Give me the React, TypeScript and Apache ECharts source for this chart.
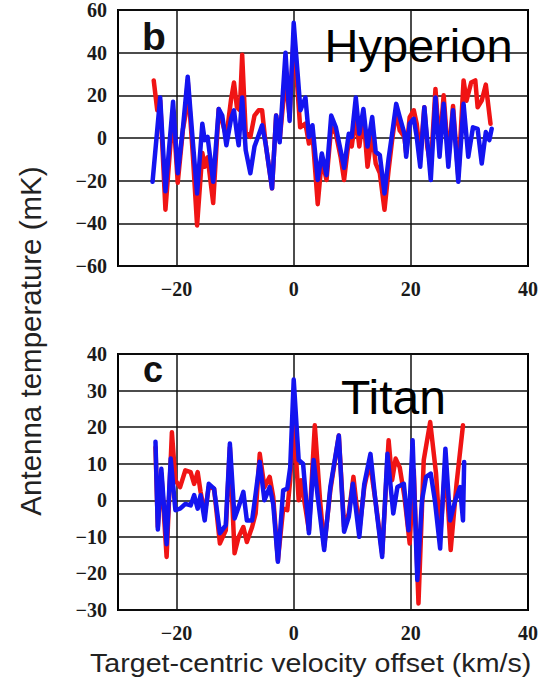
import React, { useEffect, useRef } from "react";
import * as echarts from "echarts";

// Panel b: Hyperion
const hypRedX = [-23.9, -23.3, -22.8, -21.9, -20.6, -19.8, -18.9, -18.5, -18.1, -17.2, -16.5, -15.6, -15.2, -14.7, -13.75, -12.8, -11.5, -10.7, -10.2, -9.7, -9.2, -8.8, -8.2, -7.4, -6.7, -6.0, -5.4, -4.8, -3.7, -3.0, -2.4, -1.4, -0.7, 0, 1.1, 2, 2.6, 3.2, 4.1, 4.8, 5.6, 6.4, 7.2, 8, 8.6, 9.4, 9.9, 10.6, 11.2, 11.9, 12.6, 13.4, 14, 14.7, 15.5, 16.2, 16.8, 17.5, 18.1, 18.9, 19.2, 19.8, 20.5, 21, 21.6, 22.3, 22.8, 23.4, 24.2, 24.9, 25.6, 26.4, 27.2, 28.1, 29, 29.5, 30.3, 31, 31.4, 32.1, 32.8, 33.6];
const hypRedY = [27, 13, 17.5, -33.6, 13, -21, 4.3, 10.5, 27, -9, -41, -7, -13.5, -9, -30.5, 13.6, 0.5, 18, 26, 14.4, 13, 39, 2.8, 0.5, 10.5, 13, 13, -2.6, -23.6, 10.5, -1, 28, 10, 48, 5, 6.7, -2.6, 2, -31, -10, -19.7, 5, 2, -8.8, -19.7, -1, -4, 9.8, -4, 10.5, -13.5, 2, -12, -16.5, -33.6, -15, -1, 13, 3.5, 0.5, -7, 9.8, 13, 6.7, -8.8, 14.4, -4, -13.5, 23, -4, 20, -10, 15, -18, 27, 17.5, 26, 27, 14.4, 17.5, 25, 6.7];
const hypBlueX = [-24.1, -22.8, -21.9, -20.6, -19.8, -18.9, -18.1, -17.2, -16.5, -15.6, -15.2, -14.7, -13.75, -12.8, -12.2, -11.5, -10.7, -10.2, -9.7, -9.4, -8.8, -8.2, -7.4, -6.7, -6.1, -5.4, -4.8, -3.7, -3.0, -2.4, -1.4, -0.7, 0, 1.15, 2, 2.6, 3.2, 4.1, 4.8, 5.6, 6.4, 7.2, 8, 8.6, 9.4, 9.9, 10.6, 11.2, 11.9, 12.6, 13.4, 14, 14.7, 15.5, 16.2, 16.8, 17.5, 18.1, 18.9, 19.2, 19.8, 20.5, 21, 21.6, 22.3, 22.8, 23.4, 24.2, 24.9, 25.6, 26.4, 27.2, 28.1, 29, 29.8, 30.6, 31.4, 32.1, 32.8, 33.4, 33.8];
const hypBlueY = [-20.5, 19, -25, 17, -16.5, 5, 28.7, -2.6, -26, 6.7, -1, 0.5, -20.5, 13.6, 10.5, -3.4, 9, 13, 2, -3.4, 19, -5.7, -16.5, -4, 0.5, 6, -2.6, -23.6, 10.5, -2, 40, 8, 54, 13, 19, 0.5, 6, -19.7, -7.3, -17.4, 10.5, 5, -5.7, -14, 2, 0.5, 19, 2, 13.6, -4, 9.8, -6.5, -8, -26, -9.6, 2, 16, 9.8, 2, -8.8, 6.7, 9, 0.5, -13.5, 14.4, -1, -19.7, 19, -8.8, 16, -13.5, 13, -20.5, 16, -8.8, 5, 4.3, -12, 2.8, -1, 4.3];

// Panel c: Titan
const titRedX = [-23.6, -23.2, -22.6, -21.7, -20.8, -20.2, -19.4, -18.5, -17.6, -17, -16.4, -15.9, -15.2, -14.5, -13.6, -12.6, -11.6, -10.9, -10.1, -9.4, -8.6, -8, -7.1, -6.5, -5.8, -5, -4.1, -3.5, -2.7, -1.8, -1.1, -0.6, 0, 0.85, 1.25, 2.6, 3.6, 4.5, 5.2, 6.25, 7.7, 8.6, 9.4, 10.2, 11.2, 12.05, 13, 14.1, 15.1, 16.2, 16.8, 17.4, 18.1, 18.9, 19.8, 20.5, 21.3, 22.2, 23.3, 24.3, 25, 25.9, 26.8, 27.8, 28.9];
const titRedY = [14.5, -7.3, 7.3, -15.5, 18.6, 5.5, 3.6, 8.2, 7.7, 4.5, 7.7, 2.3, -3.6, 3.6, 3.2, -11.8, -8.2, 14.5, -14.5, -10, -7.3, -11.4, -7.3, -3.6, 12.7, 3.6, 6.4, 0.9, -16.4, -2.3, -2.7, 5.5, 22, 0, 5.5, -8.2, 20.5, 0, -12.7, 2.7, 17.7, -7.3, -3.6, 6.4, -8.2, 3.6, 10.5, -1.8, -14.5, 16.4, 5.5, 11.4, 9, 1, -11.8, 8.2, -28.2, 11, 21.4, 7.3, -10, 10, -13.6, 4.5, 20.5];
const titBlueX = [-23.6, -23.2, -22.6, -21.7, -21, -20.2, -19.4, -18.5, -17.6, -17, -16.4, -15.9, -15.2, -14.5, -13.6, -12.6, -11.6, -10.9, -10.1, -9.4, -8.6, -8, -7.1, -6.5, -5.8, -5, -4.1, -3.5, -2.7, -1.8, -1.1, -0.6, 0, 0.85, 1.6, 2.6, 3.4, 4.1, 5.2, 6.25, 7.7, 8.6, 9.4, 10.1, 11.2, 12.05, 13.1, 14.1, 15.1, 16, 17, 17.7, 18.8, 19.6, 20.3, 21.1, 21.9, 22.6, 23.4, 24.1, 25, 25.9, 26.7, 27.6, 28.4, 28.9, 29.1];
const titBlueY = [16, -8, 8.6, -12, 11.4, -2.7, -2.3, -1, -1.4, 1.4, -2.3, 1.4, -5.5, 4.5, 3.2, -9, -6.8, 15.5, -5, -1.8, 2.3, -5.5, -5.5, 1.8, 10.5, 0, 3.6, -1, -16.8, 2.7, 3.2, 9, 33, 11, 10, -9, 11, 1, -13.6, 3.6, 17.7, -8.6, -4.5, 4.5, -10, 4.5, 12.7, -2.3, -15.5, 12.7, -3.6, 3.6, 4.5, -8.2, 16.4, -21.8, 0, 6.4, 7.3, 0, -13.2, 14.1, -5.5, 0, 3.6, -5.5, 10.5];

const xGridValues = [-20, 0, 20];
const panelLetters = ["b", "c"];
const panelNames = ["Hyperion", "Titan"];
const yTitle = "Antenna temperature (mK)";
const xTitle = "Target-centric velocity offset (km/s)";

const RED = "#f01414";
const BLUE = "#1414f0";
const TICK_FONT = "'Liberation Serif', 'Times New Roman', 'DejaVu Serif', serif";
const SANS = "'Liberation Sans', Arial, sans-serif";

const pairs = (xs: number[], ys: number[]) => xs.map((x, i) => [x, ys[i]]);
const signed = (v: number) => (v < 0 ? "\u2212" + Math.abs(v) : String(v));
const xFmt = (v: number) => (Math.abs(v % 20) === 0 ? signed(v) : "");

export default function App() {
  const ref = useRef<HTMLDivElement>(null);
  useEffect(() => {
    if (!ref.current) return;
    const chart = echarts.init(ref.current, null, { renderer: "svg" });
    const tickLabel = {
      fontFamily: TICK_FONT,
      fontWeight: "bold" as const,
      fontSize: 20,
      color: "#1a1a1a",
    };
    const xAxis = (gi: number) => ({
      type: "value" as const,
      gridIndex: gi,
      min: -30,
      max: 40,
      interval: 10,
      axisLine: { show: false },
      axisTick: { show: false },
      splitLine: { show: false },
      axisLabel: { ...tickLabel, margin: 13, formatter: xFmt, showMinLabel: true, showMaxLabel: true },
    });
    const yAxis = (gi: number, min: number, max: number, interval: number) => ({
      type: "value" as const,
      gridIndex: gi,
      min,
      max,
      interval,
      axisLine: { show: false },
      axisTick: { show: false },
      splitLine: { show: true, lineStyle: { color: "#111", width: 1.5 } },
      axisLabel: { ...tickLabel, margin: 11, padding: [8, 0, 0, 0], formatter: signed },
    });
    const line = (gi: number, data: number[][], color: string, z: number) => ({
      type: "line" as const,
      xAxisIndex: gi,
      yAxisIndex: gi,
      data,
      z,
      symbol: "none",
      smooth: false,
      lineStyle: { color, width: 4.5, cap: "round", join: "round" },
      silent: true,
    });
    const gridLines = (gi: number) => ({
      type: "line" as const,
      xAxisIndex: gi,
      yAxisIndex: gi,
      data: [],
      z: 1,
      silent: true,
      markLine: {
        silent: true,
        z: 1,
        symbol: "none",
        label: { show: false },
        lineStyle: { color: "#111", type: "solid", width: 1.5 },
        data: xGridValues.map((v) => ({ xAxis: v })),
      },
    });
    const gridBase = { show: true, borderColor: "#000", borderWidth: 2, backgroundColor: "#fff", left: 118, width: 411 };
    chart.setOption({
      animation: false,
      backgroundColor: "#fff",
      grid: [
        { ...gridBase, top: 8.5, height: 257.5 },
        { ...gridBase, top: 354, height: 256 },
      ],
      xAxis: [xAxis(0), xAxis(1)],
      yAxis: [yAxis(0, -60, 60, 20), yAxis(1, -30, 40, 10)],
      series: [
        gridLines(0),
        gridLines(1),
        line(0, pairs(hypRedX, hypRedY), RED, 2),
        line(0, pairs(hypBlueX, hypBlueY), BLUE, 3),
        line(1, pairs(titRedX, titRedY), RED, 2),
        line(1, pairs(titBlueX, titBlueY), BLUE, 3),
      ],
      graphic: [
        { type: "text", x: 142, y: 36.5, z: 10, style: { text: panelLetters[0], fontSize: 39, fontWeight: "bold", fontFamily: SANS, fill: "#111", verticalAlign: "middle" } },
        { type: "text", x: 143, y: 369.5, z: 10, style: { text: panelLetters[1], fontSize: 36, fontWeight: "bold", fontFamily: SANS, fill: "#111", verticalAlign: "middle" } },
        { type: "text", x: 324.5, y: 45.4, z: 10, style: { text: panelNames[0], fontSize: 47, fontFamily: SANS, fill: "#000", verticalAlign: "middle" } },
        { type: "text", x: 341, y: 397.4, z: 10, style: { text: panelNames[1], fontSize: 48, fontFamily: SANS, fill: "#000", verticalAlign: "middle" } },
        { type: "text", x: 30.5, y: 341, rotation: Math.PI / 2, z: 10, style: { text: yTitle, fontSize: 29.5, fontFamily: SANS, fill: "#222", align: "center", verticalAlign: "middle" } },
        { type: "text", x: 90, y: 662.7, scaleX: 1.1, z: 10, style: { text: xTitle, fontSize: 26, fontFamily: SANS, fill: "#222", align: "left", verticalAlign: "middle" } },
      ],
    });
    return () => chart.dispose();
  }, []);
  return (
    <div
      ref={ref}
      style={{ position: "absolute", left: 0, top: 0, width: 541, height: 687, background: "#fff" }}
    />
  );
}
